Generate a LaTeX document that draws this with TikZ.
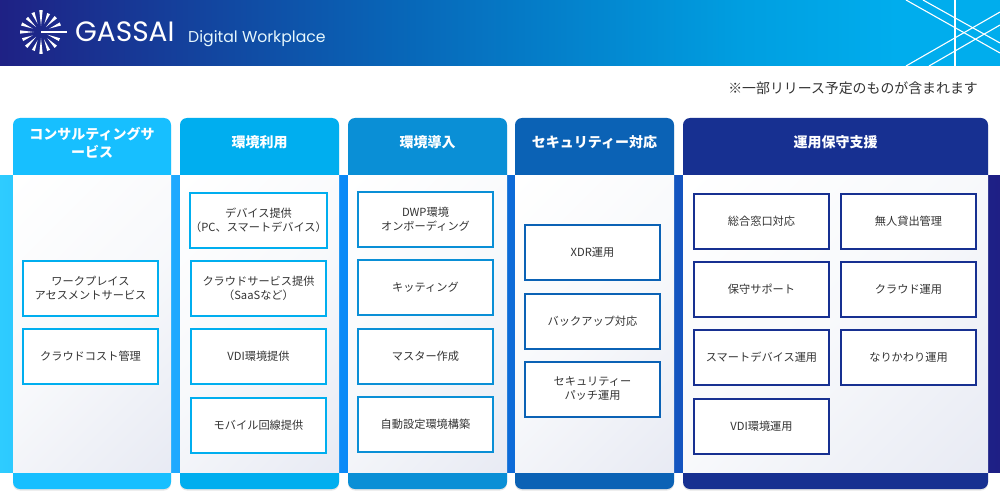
\documentclass[tikz,border=0pt]{standalone}
\usepackage{fontspec}
\setmainfont{Noto Sans CJK JP}
\newfontfamily\logofont{Poppins}
\usetikzlibrary{shadows,calc}
\definecolor{colA}{HTML}{17BFFF}
\definecolor{colB}{HTML}{00AEEF}
\definecolor{colC}{HTML}{0A8FD6}
\definecolor{colD}{HTML}{0B62B5}
\definecolor{colE}{HTML}{173091}
\definecolor{inkgray}{HTML}{333333}
\pgfdeclarehorizontalshading{bandshade}{100bp}{
  rgb(0bp)=(0.18,0.80,1.00);
  rgb(25bp)=(0.18,0.80,1.00);
  rgb(34bp)=(0.12,0.66,1.00);
  rgb(42.2bp)=(0.04,0.54,0.97);
  rgb(50.5bp)=(0.05,0.42,0.85);
  rgb(59bp)=(0.08,0.33,0.75);
  rgb(75bp)=(0.12,0.12,0.52);
  rgb(100bp)=(0.12,0.12,0.52)}
\pgfdeclarehorizontalshading{headshade}{100bp}{
  rgb(0bp)=(0.12,0.13,0.52);
  rgb(25bp)=(0.12,0.13,0.52);
  rgb(45bp)=(0.03,0.40,0.72);
  rgb(62bp)=(0.00,0.62,0.88);
  rgb(70bp)=(0.00,0.68,0.93);
  rgb(100bp)=(0.00,0.68,0.93)}
\pgfdeclarehorizontalshading{bodyshade}{100bp}{
  rgb(0bp)=(1,1,1);
  rgb(15bp)=(1,1,1);
  rgb(50bp)=(0.97,0.975,0.985);
  rgb(85bp)=(0.91,0.92,0.955);
  rgb(100bp)=(0.91,0.92,0.955)}
\tikzset{
  paneltitle/.style={text=white,font=\fontsize{14}{18}\selectfont\bfseries,align=center,text width=145pt},
  svcbox/.style={draw=#1,line width=2pt,fill=white,text=inkgray,minimum width=135pt,minimum height=55pt,
    inner sep=0pt,align=center,font=\fontsize{11.2}{14}\selectfont},
  thinline/.style={white,line width=1.1pt}
}
\begin{document}
\begin{tikzpicture}[x=1pt,y=-1pt]
  \useasboundingbox (0,0) rectangle (1000,492);
  \fill[white] (0,0) rectangle (1000,492);
  % header
  \shade[shading=headshade] (0,0) rectangle (1000,66);
  \draw[thinline] (906,0) -- (1000,53);
  \draw[thinline] (923,0) -- (1000,43);
  \draw[thinline] (955,0) -- (955,66);
  \draw[thinline] (906,66) -- (1000,12);
  \draw[thinline] (929,66) -- (1000,25);
  % logo
  \coordinate (sun) at (41,32);
  \draw[white,line width=1.2pt] (sun) -- (67,32);
  \foreach \a/\r/\R in {22.5/7/20,45/9/21,67.5/8/20,90/6/22,112.5/9/20,135/7/21,157.5/9/20,180/7/21,
    202.5/9/21,225/7/20,247.5/9/21,270/6/22,292.5/9/20,315/7/21,337.5/9/21}
    \fill[white] ($(sun)+(\a:\r)$) -- ($(sun)+(\a-4.5:\R)$) -- ($(sun)+(\a+4.5:\R)$) -- cycle;
  \node[anchor=base west,inner sep=0pt,text=white,font=\logofont\fontsize{28}{28}\selectfont] (brand) at (75,42) {GASSAI};
  \node[anchor=base west,inner sep=0pt,text=white!90!cyan,font=\logofont\fontsize{15.7}{16}\selectfont] (product) at (188,43) {Digital Workplace};
  \node[anchor=east,inner sep=0pt,text=inkgray,font=\fontsize{13.9}{16}\selectfont] (note) at (978,88) {※一部リリース予定のものが含まれます};
  % band behind the panels
  \shade[shading=bandshade] (0,175) rectangle (1000,472);
  % panels
  \foreach \x/\X/\col in {13/171/colA,180/339/colB,348/507/colC,515/674/colD,683/988/colE}{
    \fill[\col,rounded corners=7pt,drop shadow={opacity=.2,shadow xshift=0pt,shadow yshift=-1.5pt}] (\x,118) rectangle (\X,489);
    \shade[shading=bodyshade,shading angle=-45] (\x,175) rectangle (\X,472);
  }
  % titles
  \node[paneltitle] (titleA) at (92,143) {コンサルティングサ\\ービス};
  \node[paneltitle] (titleB) at (259.5,142.5) {環境利用};
  \node[paneltitle] (titleC) at (427.5,142.5) {環境導入};
  \node[paneltitle] (titleD) at (594.5,142.5) {セキュリティー対応};
  \node[paneltitle,text width=280pt] (titleE) at (835.5,142.5) {運用保守支援};
  % boxes
  \foreach \nm/\cx/\cy/\col/\txt in {
    a1/90.5/288/colB/{ワークプレイス\\アセスメントサービス},
    a2/90.5/356/colB/{クラウドコスト管理},
    b1/258.5/220/colB/{デバイス提供\\（PC、スマートデバイス）},
    b2/258.5/288/colB/{クラウドサービス提供\\（SaaSなど）},
    b3/258.5/356/colB/{VDI環境提供},
    b4/258.5/425/colB/{モバイル回線提供},
    c1/425.5/219.5/colC/{DWP環境\\オンボーディング},
    c2/425.5/287.5/colC/{キッティング},
    c3/425.5/356/colC/{マスター作成},
    c4/425.5/424.5/colC/{自動設定環境構築},
    d1/592.5/252.5/colD/{XDR運用},
    d2/592.5/321/colD/{バックアップ対応},
    d3/592.5/389/colD/{セキュリティー\\パッチ運用},
    e1/761.5/221/colE/{総合窓口対応},
    e2/761.5/289/colE/{保守サポート},
    e3/761.5/357/colE/{スマートデバイス運用},
    e4/761.5/426/colE/{VDI環境運用},
    f1/908.5/221/colE/{無人貸出管理},
    f2/908.5/289/colE/{クラウド運用},
    f3/908.5/357/colE/{なりかわり運用}}
    \node[svcbox=\col] (\nm) at (\cx,\cy) {\txt};
\end{tikzpicture}
\end{document}
